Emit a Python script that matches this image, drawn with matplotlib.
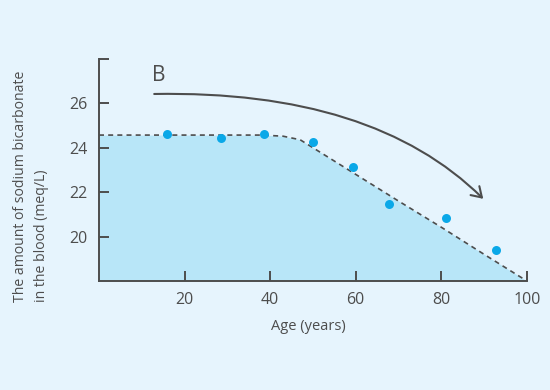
import matplotlib
matplotlib.use('Agg')
import matplotlib.pyplot as plt
from matplotlib.patches import FancyArrowPatch
from matplotlib.path import Path

plt.rcParams['font.family'] = ['Open Sans', 'DejaVu Sans']

# 数据
trend_age = [0, 38, 43, 47, 60, 70, 80, 90, 100]
trend_value = [24.57, 24.57, 24.52, 24.36, 22.8, 21.6, 20.42, 19.2, 18.0]
point_age = [15.8, 28.5, 38.5, 50.1, 59.3, 67.7, 81.1, 92.7]
point_value = [24.63, 24.45, 24.62, 24.26, 23.13, 21.46, 20.85, 19.4]
x_ticks = [20, 40, 60, 80, 100]
y_ticks = [20, 22, 24, 26, 28]
y_tick_labels = ['20', '22', '24', '26', '']

bg = '#e6f4fd'
fill_color = '#b8e6f8'
dot_color = '#0aa8e8'
ink = '#4d4d4d'

fig = plt.figure(figsize=(5.5, 3.9), dpi=100, facecolor=bg)
ax = fig.add_axes([0.18, 0.2795, 0.778, 0.5695])
ax.set_facecolor(bg)

ax.fill_between(trend_age, trend_value, 18, color=fill_color, lw=0, zorder=1)
ax.plot(trend_age, trend_value, color=ink, lw=1.2, ls=(0, (3, 2.5)), zorder=2)
ax.scatter(point_age, point_value, s=42, color=dot_color, zorder=3, lw=0)

# 弯曲箭头（二次贝塞尔曲线）
arc = Path([(12.9, 26.42), (64, 26.6), (89.8, 21.7)],
           [Path.MOVETO, Path.CURVE3, Path.CURVE3])
arrow = FancyArrowPatch(path=arc, transform=ax.transData,
                        arrowstyle='->,head_length=7,head_width=4.5',
                        color=ink, lw=1.5, zorder=4)
ax.add_patch(arrow)
ax.text(14, 27.27, 'B', fontsize=15, color=ink, ha='center', va='center')

ax.set_xlim(0, 100)
ax.set_ylim(18, 28)
ax.set_xticks(x_ticks)
ax.set_yticks(y_ticks)
ax.set_yticklabels(y_tick_labels)

for side in ['top', 'right']:
    ax.spines[side].set_visible(False)
for side in ['left', 'bottom']:
    ax.spines[side].set_color(ink)
    ax.spines[side].set_linewidth(1.4)

ax.tick_params(direction='in', length=7, width=1.4, color=ink,
               labelcolor=ink, labelsize=11.5)
ax.tick_params(axis='x', pad=8)
ax.tick_params(axis='y', pad=8)

ax.set_xlabel('Age (years)', fontsize=10.5, color=ink)
ax.xaxis.set_label_coords(0.49, -0.17)

fig.text(0.057, 0.226, 'The amount of sodium bicarbonate\nin the blood (meq/L)',
         rotation=90, ha='center', va='bottom', multialignment='left',
         linespacing=1.55, fontsize=10.1, color=ink)

fig.savefig('out.png', dpi=100, facecolor=bg)
